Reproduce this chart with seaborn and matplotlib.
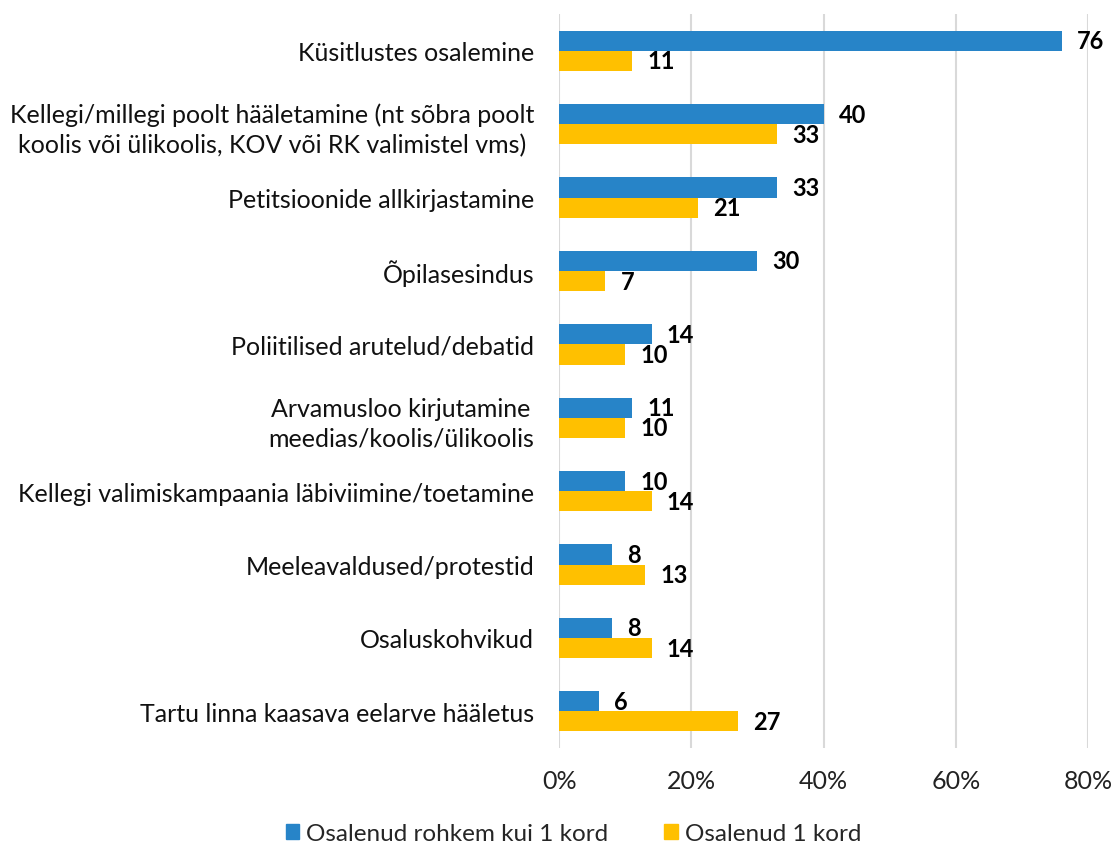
import pandas as pd
import matplotlib.pyplot as plt
import seaborn as sns

# Categories (top to bottom) and the two series
categories = [
    "Küsitlustes osalemine",
    "Kellegi/millegi poolt hääletamine (nt sõbra poolt\nkoolis või ülikoolis, KOV või RK valimistel vms)",
    "Petitsioonide allkirjastamine",
    "Õpilasesindus",
    "Poliitilised arutelud/debatid",
    "Arvamusloo kirjutamine\nmeedias/koolis/ülikoolis",
    "Kellegi valimiskampaania läbiviimine/toetamine",
    "Meeleavaldused/protestid",
    "Osaluskohvikud",
    "Tartu linna kaasava eelarve hääletus",
]
more_than_once = [76, 40, 33, 30, 14, 11, 10, 8, 8, 6]
once = [11, 33, 21, 7, 10, 10, 14, 13, 14, 27]
series_names = ["Osalenud rohkem kui 1 kord", "Osalenud 1 kord"]
x_ticks = [0, 20, 40, 60, 80]
x_tick_labels = ["0%", "20%", "40%", "60%", "80%"]

colors = ["#2784C8", "#FFC000"]

# Long format for seaborn
df = pd.concat([
    pd.DataFrame({"category": categories, "value": more_than_once, "series": series_names[0]}),
    pd.DataFrame({"category": categories, "value": once, "series": series_names[1]}),
])

sns.set_style("white")
plt.rcParams["font.family"] = ["Lato", "DejaVu Sans"]

fig = plt.figure(figsize=(11.16, 8.45), dpi=100)
ax = fig.add_axes([0.501, 0.1136, 0.474, 0.8686])

sns.barplot(data=df, y="category", x="value", hue="series", order=categories,
            hue_order=series_names, palette=colors, width=0.55, orient="h",
            saturation=1, linewidth=0, ax=ax, legend=False)

# value labels, bold
for cont in ax.containers:
    ax.bar_label(cont, padding=11, fontsize=17, fontweight="bold", color="black")

ax.set_xlim(0, 80)
ax.set_ylim(len(categories) - 0.5, -0.5)
ax.set_xticks(x_ticks)
ax.set_xticklabels(x_tick_labels, fontsize=18, color="#222222")
ax.tick_params(axis="y", labelsize=18, length=0, pad=18, labelcolor="#111111")
ax.tick_params(axis="x", length=0, pad=15)
for lbl in ax.get_yticklabels():
    lbl.set_horizontalalignment("right")
    lbl.set_multialignment("center")
    lbl.set_linespacing(1.35)

ax.xaxis.grid(True, color="#D9D9D9", linewidth=1.5)
ax.yaxis.grid(False)
ax.set_axisbelow(True)
for s in ax.spines.values():
    s.set_visible(False)
ax.set_xlabel("")
ax.set_ylabel("")

handles = [plt.Rectangle((0, 0), 1, 1, color=c) for c in colors]
fig.legend(handles, series_names, loc="center", bbox_to_anchor=(0.514, 0.012),
           ncol=2, frameon=False, fontsize=17.5, handlelength=0.55, handleheight=0.55,
           handletextpad=0.3, columnspacing=2.3)

fig.savefig("out.png", dpi=100)
